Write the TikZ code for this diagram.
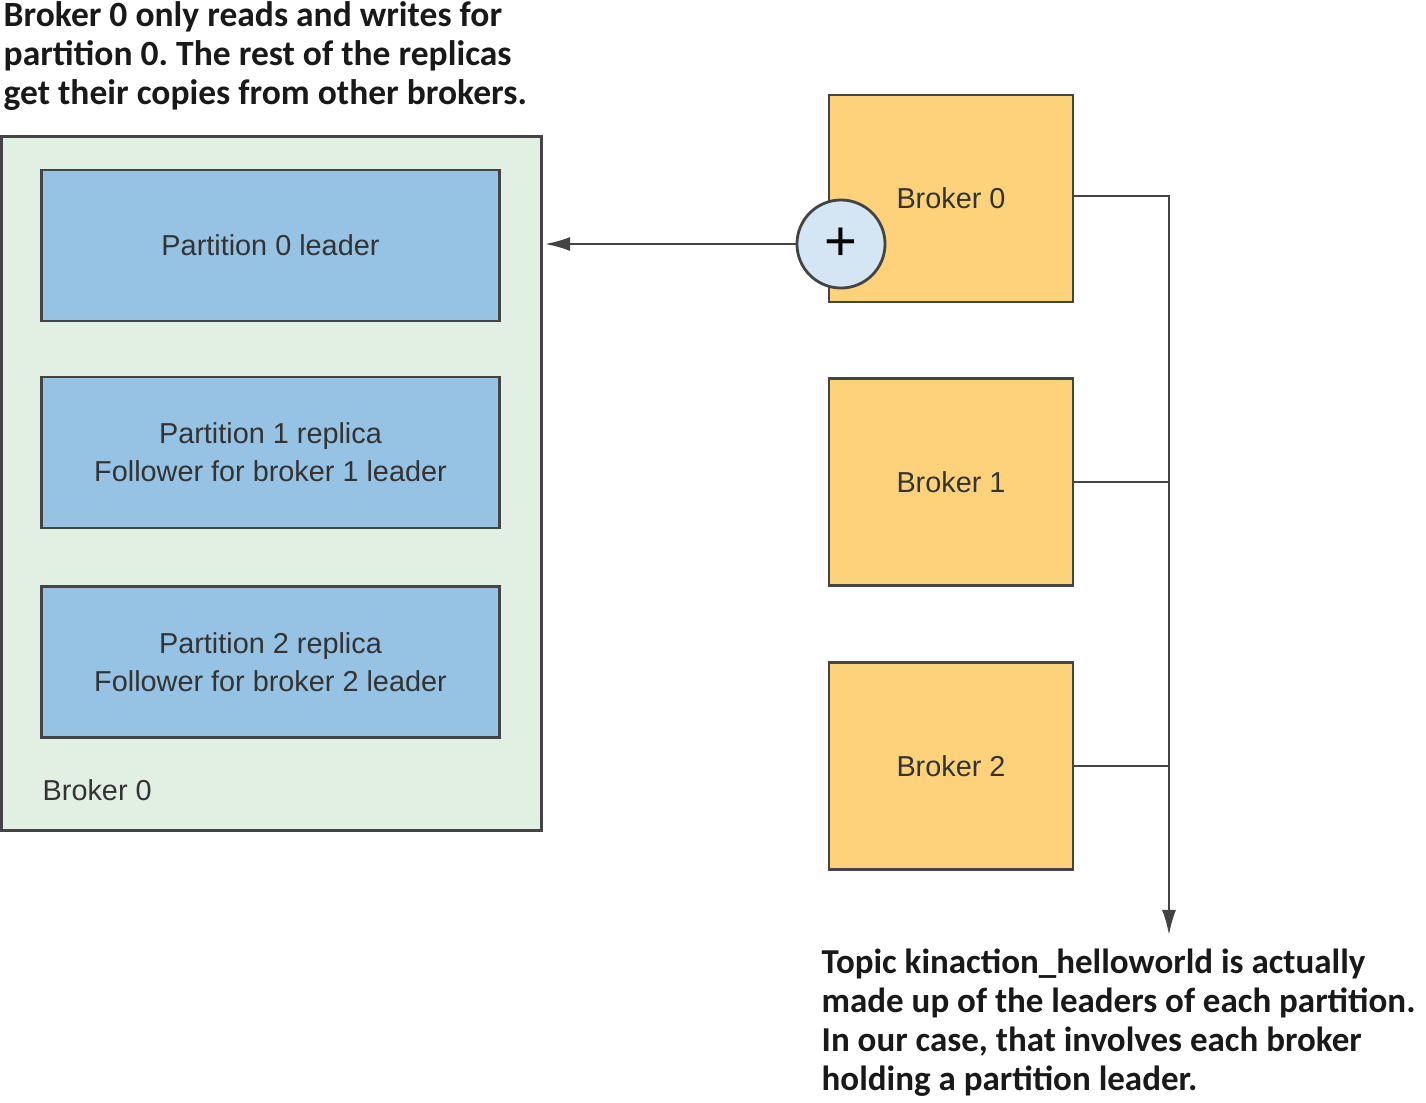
\documentclass[tikz,border=0pt]{standalone}
\usepackage{fontspec}
\setmainfont{Liberation Sans}
\newfontfamily\notefont{Carlito}
\usetikzlibrary{arrows.meta}

\definecolor{boxgreen}{HTML}{E2EFE3}
\definecolor{partblue}{HTML}{96C3E3}
\definecolor{brokeryellow}{HTML}{FDD27B}
\definecolor{plusblue}{HTML}{D4E5F3}
\definecolor{linegray}{HTML}{444444}
\definecolor{txtgray}{HTML}{333333}

\begin{document}
\frenchspacing
\begin{tikzpicture}[x=0.01cm,y=-0.01cm,
    part/.style={draw=linegray,line width=0.8pt,fill=partblue,minimum width=4.57cm,
      minimum height=1.51cm,align=center,text=txtgray,font=\fontsize{8.2}{10.8}\selectfont},
    broker/.style={draw=linegray,line width=0.8pt,fill=brokeryellow,minimum width=2.44cm,
      minimum height=2.07cm,text=txtgray,font=\fontsize{8.2}{10.8}\selectfont},
    note/.style={anchor=north west,align=left,inner sep=0pt,text=black!90,
      font=\notefont\bfseries\fontsize{10.1}{11.1}\selectfont},
    conn/.style={draw=linegray,line width=0.6pt},
    >={Latex[length=0.25cm,width=0.14cm]}]
  \useasboundingbox (0,0) rectangle (1426,1102);

  % broker 0 and its partitions
  \node[draw=linegray,line width=0.8pt,fill=boxgreen,minimum width=5.39cm,
    minimum height=6.93cm] (brk0box) at (271.5,483.5) {};
  \node[part] (part0) at (270.5,245.5) {Partition 0 leader};
  \node[part] (part1) at (270.5,452.5) {Partition 1 replica\\Follower for broker 1 leader};
  \node[part] (part2) at (270.5,662) {Partition 2 replica\\Follower for broker 2 leader};
  \node[anchor=west,inner sep=0pt,text=txtgray,font=\fontsize{8.2}{10.8}\selectfont]
    (brk0label) at (42,790) {Broker 0};

  % brokers
  \node[broker] (broker0) at (951,198.5) {Broker 0};
  \node[broker] (broker1) at (951,482) {Broker 1};
  \node[broker] (broker2) at (951,766) {Broker 2};

  \node[circle,draw=linegray,line width=0.8pt,fill=plusblue,minimum size=0.88cm,
    inner sep=0pt,font=\fontsize{16}{16}\selectfont] (plus) at (841,244) {+};

  \coordinate (arrowend) at (545,244);
  \coordinate (topicend) at (1169,935);

  \draw[conn,->] (plus) -- (arrowend);
  \draw[conn,->] ([yshift=0.025cm]broker0.east) -| (topicend);
  \draw[conn] (broker1.east) -- (broker1.east -| topicend);
  \draw[conn] (broker2.east) -- (broker2.east -| topicend);

  % notes
  \node[note] (notetop) at (3,1) {Broker 0 only reads and writes for\\
    partition 0. The rest of the replicas\\get their copies from other brokers.};
  \node[note,font=\notefont\bfseries\fontsize{9.95}{11.1}\selectfont] (notebottom)
    at (821,948) {Topic kinaction\_helloworld is actually\\
    made up of the leaders of each partition.\\In our case, that involves each broker\\
    holding a partition leader.};
\end{tikzpicture}
\end{document}
